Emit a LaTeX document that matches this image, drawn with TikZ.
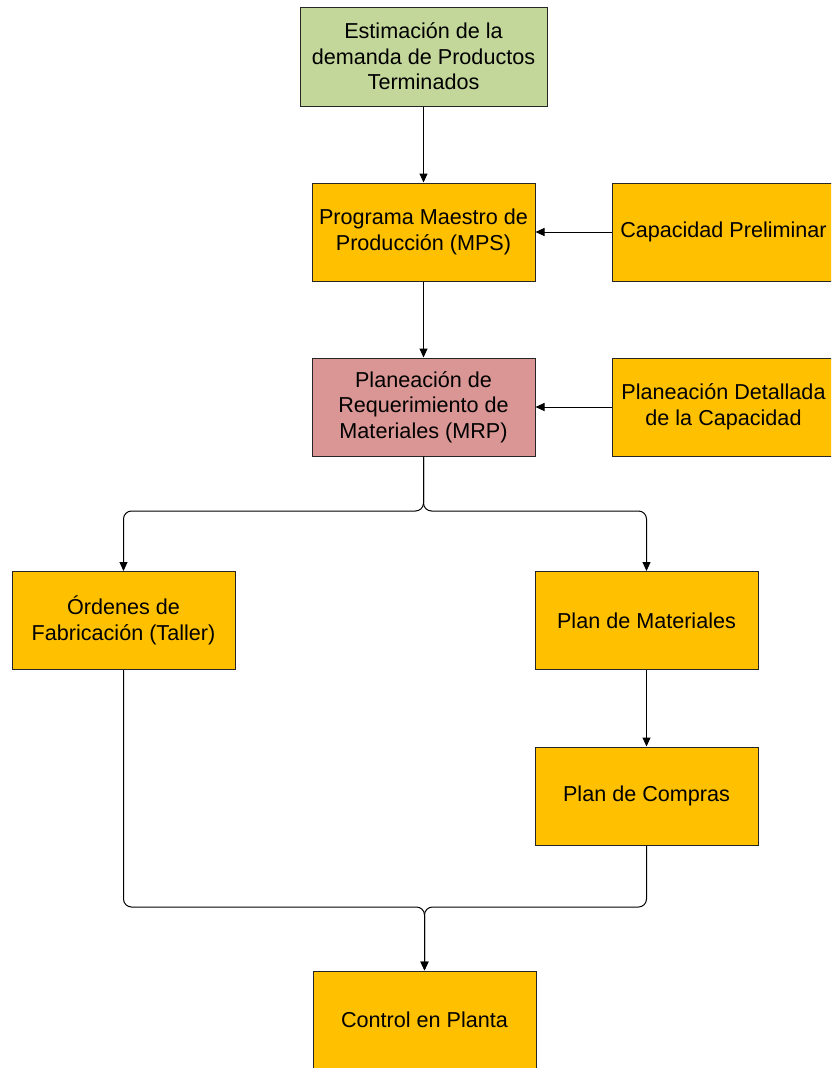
\documentclass[tikz,border=0pt]{standalone}
\usepackage{fontspec}
\setmainfont{Liberation Sans}
\usetikzlibrary{arrows.meta}
\definecolor{boxorange}{RGB}{255,192,0}
\definecolor{boxgreen}{RGB}{196,215,155}
\definecolor{boxrose}{RGB}{218,150,148}
\definecolor{edgegray}{RGB}{38,38,38}
\tikzset{
  stepbox/.style={draw=edgegray, line width=1pt, fill=boxorange, align=center,
    minimum width=223pt, minimum height=98pt, inner sep=2pt,
    font=\fontsize{21.6}{25.5}\selectfont},
  flow/.style={draw=black, line width=1pt, -{Triangle[length=9pt,width=8pt]}},
  branch/.style={flow, rounded corners=8pt}
}
\begin{document}
\begin{tikzpicture}[x=1pt, y=-1pt]
  \clip (0,0) rectangle (831,1068);
  \useasboundingbox (0,0) rectangle (831,1068);
  \fill[white] (0,0) rectangle (831,1068);

  % planning chain
  \node[stepbox, fill=boxgreen, minimum width=247pt, minimum height=99pt] (dem) at (423.5,56.5)
    {Estimación de la\\demanda de Productos\\Terminados};
  \node[stepbox] (mps) at (423.5,232) {Programa Maestro de\\Producción (MPS)};
  \node[stepbox] (cap) at (723.5,232) {Capacidad Preliminar};
  \node[stepbox, fill=boxrose] (mrp) at (423.5,407) {Planeación de\\Requerimiento de\\Materiales (MRP)};
  \node[stepbox] (pdc) at (723.5,407) {Planeación Detallada\\de la Capacidad};
  \node[stepbox] (ord) at (123.5,620.5) {Órdenes de\\Fabricación (Taller)};
  \node[stepbox] (mat) at (646.5,620.5) {Plan de Materiales};
  \node[stepbox] (com) at (646.5,796) {Plan de Compras};
  \node[stepbox] (ctl) at (424.5,1020) {Control en Planta};

  \coordinate (split) at (423.5,511);
  \coordinate (join) at (424.5,907);

  % connectors
  \draw[flow] (dem) -- (mps);
  \draw[flow] (mps) -- (mrp);
  \draw[flow] (cap) -- (mps);
  \draw[flow] (pdc) -- (mrp);
  \draw[branch] (mrp.south) -- (split) -- (split -| ord.north) -- (ord.north);
  \draw[branch] (mrp.south) -- (split) -- (split -| mat.north) -- (mat.north);
  \draw[flow] (mat) -- (com);
  \draw[branch] (ord.south) -- (ord.south |- join) -- (join) -- (ctl.north);
  \draw[branch] (com.south) -- (com.south |- join) -- (join) -- (ctl.north);
\end{tikzpicture}
\end{document}
